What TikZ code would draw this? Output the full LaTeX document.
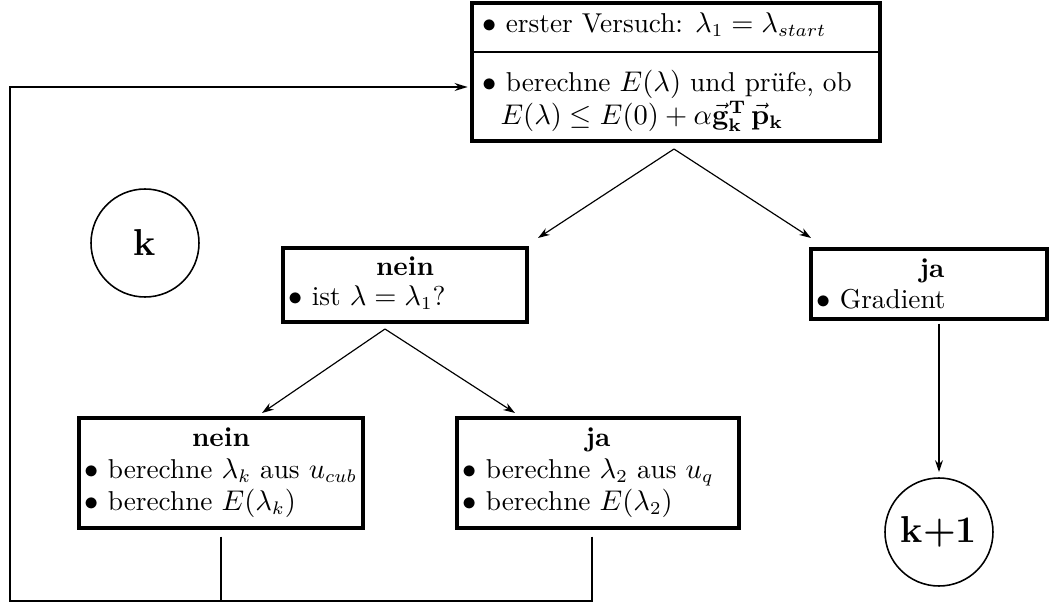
\documentclass[tikz,border=0pt]{standalone}
\usetikzlibrary{arrows.meta,fit,calc}
\begin{document}
\begin{tikzpicture}[x=0.3846pt,y=-0.3846pt,
  box/.style={draw,line width=1.3pt,inner sep=0pt,rectangle},
  txt/.style={inner sep=0pt,anchor=base west,font=\fontsize{10.5}{12.6}\selectfont},
  head/.style={inner sep=0pt,anchor=base,font=\fontsize{10.5}{12.6}\selectfont\bfseries},
  thin arrow/.style={line width=0.45pt,-{Stealth[length=4.5pt,width=3pt]}},
  loop line/.style={line width=1.1pt},
  circ/.style={draw,circle,line width=0.6pt,minimum size=108*0.3846pt,inner sep=0pt,font=\fontsize{14.4}{17}\selectfont\bfseries}]
\useasboundingbox (0,0) rectangle (1049,604);
% boxes
\node[box,fit={(472,3) (880,141)}] (top) {};
\draw[line width=1.1pt] (top.west |- 0,52) -- (top.east |- 0,52);
\node[txt] (t1) at (482,32) {$\bullet$ erster Versuch: $\lambda_1=\lambda_{start}$};
\node[txt] (t2) at (482,91) {$\bullet$ berechne $E(\lambda)$ und prüfe, ob};
\node[txt] (t3) at (500,124) {$E(\lambda)\le E(0)+\alpha\vec{\mathbf{g}}_{\mathbf{k}}^{\mathbf{T}}\,\vec{\mathbf{p}}_{\mathbf{k}}$};

\node[box,fit={(283,248) (527,322)}] (n1) {};
\node[head] (n1h) at (n1.north |- 0,275) {nein};
\node[txt] (n1t) at (288,305) {$\bullet$ ist $\lambda=\lambda_1$?};

\node[box,fit={(811,249) (1047,319)}] (j1) {};
\node[head] (j1h) at (932,277) {ja};
\node[txt] (j1t) at (816,308) {$\bullet$ Gradient};

\node[box,fit={(79,418) (363,528)}] (bl) {};
\node[head] (blh) at (bl.north |- 0,446) {nein};
\node[txt] (bl1) at (84,478) {$\bullet$ berechne $\lambda_k$ aus $u_{cub}$};
\node[txt] (bl2) at (84,510) {$\bullet$ berechne $E(\lambda_k)$};

\node[box,fit={(457,418) (739,528)}] (br) {};
\node[head] (brh) at (br.north |- 0,446) {ja};
\node[txt] (br1) at (462,478) {$\bullet$ berechne $\lambda_2$ aus $u_q$};
\node[txt] (br2) at (462,510) {$\bullet$ berechne $E(\lambda_2)$};

% circles
\node[circ] (k) at (145,243) {k};
\node[circ] (k1) at (939,532) {k+1};

% branching arrows
\coordinate (a1) at (674,149);
\coordinate (a1l) at (538,238);
\coordinate (a1r) at (811,238);
\draw[thin arrow] (a1) -- (a1l);
\draw[thin arrow] (a1) -- (a1r);
\coordinate (a2) at (385,329);
\coordinate (a2l) at (262,413);
\coordinate (a2r) at (515,413);
\draw[thin arrow] (a2) -- (a2l);
\draw[thin arrow] (a2) -- (a2r);

% to k+1
\draw[line width=0.9pt,-{Stealth[length=4.5pt,width=3pt]}] (j1.south -| k1) ++(0,3) -- ([yshift=2pt]k1.north);

% loop back
\coordinate (c1) at (10,601);
\coordinate (c2) at (10,87);
\draw[loop line] ([yshift=-2.7pt]bl.south) -- (bl.south |- c1);
\draw[loop line,-{Stealth[length=5pt,width=3pt]}] ([xshift=-2.3pt,yshift=-2.7pt]br.south) -- ([xshift=-2.3pt]br.south |- c1) -- (c1) -- (c2) -- ([xshift=-1pt]top.west |- c2);
\end{tikzpicture}
\end{document}
